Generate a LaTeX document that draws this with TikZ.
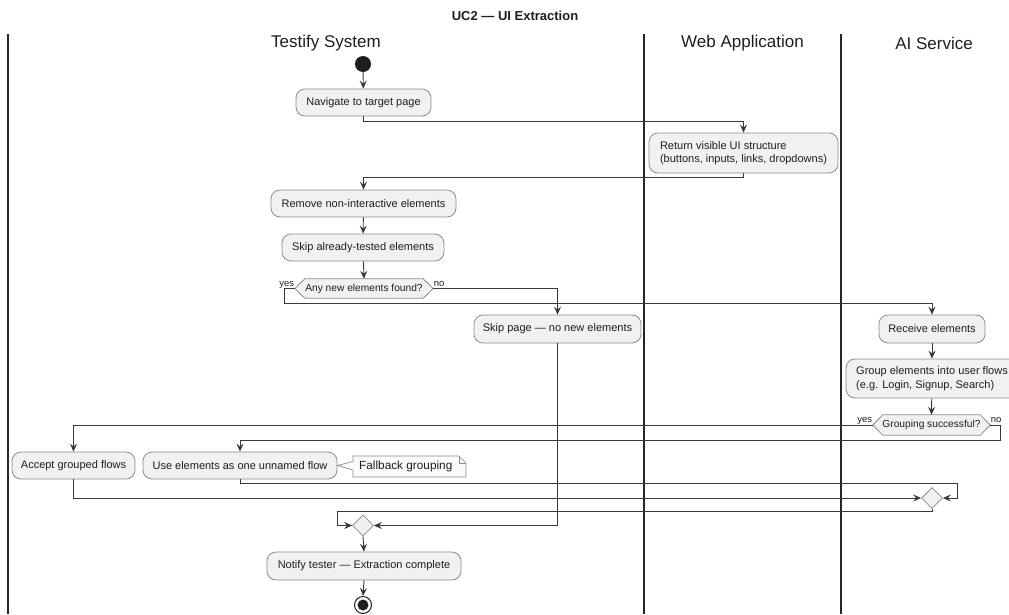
\documentclass[tikz,border=0pt]{standalone}
\usepackage{fontspec}
\setmainfont{Liberation Sans}
\usetikzlibrary{arrows.meta,calc,shapes.geometric}
\definecolor{boxfill}{HTML}{F1F1F1}
\definecolor{boxline}{HTML}{8C8C8C}
\definecolor{wire}{HTML}{383838}
\definecolor{laneline}{HTML}{262626}
\definecolor{notefill}{HTML}{FAFAFA}
\definecolor{ink}{HTML}{1E1E1E}

\begin{document}
\begin{tikzpicture}[x=1pt,y=-1pt,
  act/.style={draw=boxline, fill=boxfill, rounded corners=9pt, line width=0.8pt,
    font=\fontsize{11}{13.5}\selectfont, text=ink, inner sep=0pt},
  dectext/.style={font=\fontsize{10.2}{12}\selectfont, text=ink, inner sep=0pt, minimum height=19pt},
  decshape/.style={draw=boxline, fill=boxfill, line width=0.8pt},
  merge/.style={draw=boxline, fill=boxfill, line width=0.8pt},
  lbl/.style={font=\fontsize{9.5}{11}\selectfont, text=ink, inner sep=0pt},
  head/.style={font=\fontsize{17}{19}\selectfont, text=ink},
  flow/.style={draw=wire, line width=0.9pt, -{Stealth[length=8pt,width=7pt,inset=3pt]}},
  lanesep/.style={draw=laneline, line width=1.5pt}
]
\useasboundingbox (0,0) rectangle (1009,614);
\clip (0,0) rectangle (1009,614);

% title and swimlanes
\node[font=\bfseries\fontsize{13}{15}\selectfont, text=ink] (title) at (515,16) {UC2 — UI Extraction};
\draw[lanesep] (8,34) -- (8,614);
\draw[lanesep] (644,34) -- (644,614);
\draw[lanesep] (841,34) -- (841,614);
\node[head] (h1) at (326,43) {Testify System};
\node[head] (h2) at (742.5,43) {Web Application};
\node[head] (h3) at (934,43) {AI Service};

% activities
\node[circle, fill=ink, minimum size=16pt, inner sep=0pt] (start) at (363,64) {};
\node[act, minimum width=135pt, minimum height=27pt] (nav) at (363.5,102.5) {Navigate to target page};
\node[act, minimum width=189pt, minimum height=40pt, align=left] (ret) at (743.5,153)
  {Return visible UI structure\\(buttons, inputs, links, dropdowns)};
\node[act, minimum width=185pt, minimum height=27pt] (rem) at (363.5,203.5) {Remove non-interactive elements};
\node[act, minimum width=162pt, minimum height=27pt] (skt) at (363,247.5) {Skip already-tested elements};

% first decision
\node[dectext, minimum width=118pt] (d1) at (364,288.5) {};
\draw[decshape] (d1.north west) -- (d1.north east) -- ($(d1.east)+(10,0)$) -- (d1.south east)
  -- (d1.south west) -- ($(d1.west)+(-10,0)$) -- cycle;
\node[dectext, minimum width=118pt] (d1t) at (d1) {Any new elements found?};
\coordinate (d1w) at ($(d1.west)+(-10,0)$);
\coordinate (d1e) at ($(d1.east)+(10,0)$);
\node[lbl, anchor=base east] (y1) at ($(d1w)+(-0.5,-2.5)$) {yes};
\node[lbl, anchor=base west] (n1) at ($(d1e)+(0.5,-2.5)$) {no};

\node[act, minimum width=167pt, minimum height=28pt] (skp) at (557.5,329) {Skip page — no new elements};
\node[act, minimum width=106pt, minimum height=28pt] (rcv) at (932,329) {Receive elements};
\node[act, minimum width=172pt, minimum height=39pt, align=left] (grp) at (932,378.5)
  {Group elements into user flows\\(e.g. Login, Signup, Search)};

% second decision
\node[dectext, minimum width=97pt, minimum height=20pt] (d2) at (931.5,425) {};
\draw[decshape] (d2.north west) -- (d2.north east) -- ($(d2.east)+(10,0)$) -- (d2.south east)
  -- (d2.south west) -- ($(d2.west)+(-10,0)$) -- cycle;
\node[dectext, minimum width=97pt, minimum height=20pt] (d2t) at (d2) {Grouping successful?};
\coordinate (d2w) at ($(d2.west)+(-10,0)$);
\coordinate (d2e) at ($(d2.east)+(10,0)$);
\node[lbl, anchor=base east] (y2) at ($(d2w)+(-0.5,-2.5)$) {yes};
\node[lbl, anchor=base west] (n2) at ($(d2e)+(0.5,-2.5)$) {no};

\node[act, minimum width=123pt, minimum height=27pt] (acc) at (73.5,465.5) {Accept grouped flows};
\node[act, minimum width=194pt, minimum height=27pt] (use) at (240,465.5) {Use elements as one unnamed flow};

% note attached to the fallback activity
\draw[draw=boxline, fill=notefill, line width=0.7pt]
  (353,456) -- (459,456) -- (466,463) -- (466,477) -- (353,477) -- (353,470)
  -- (use.east) -- (353,461.5) -- cycle;
\draw[draw=boxline, line width=0.7pt] (459,456) -- (459,463) -- (466,463);
\node[font=\fontsize{11.8}{13}\selectfont, text=ink, anchor=west, inner sep=0pt] (note) at (359,466.5) {Fallback grouping};

% merge points
\node[merge, diamond, minimum width=21pt, minimum height=21pt, inner sep=0pt] (m1) at (932,498) {};
\node[merge, diamond, minimum width=21pt, minimum height=21pt, inner sep=0pt] (m2) at (363,525.5) {};

\node[act, minimum width=194pt, minimum height=28pt] (ntf) at (364,566) {Notify tester — Extraction complete};
\node[circle, draw=ink, fill=white, line width=1pt, minimum size=17pt, inner sep=0pt] (stop) at (363,605) {};
\node[circle, fill=ink, minimum size=11pt, inner sep=0pt] (stopin) at (stop) {};

% control flow
\draw[flow] (start) -- (nav);
\draw[flow] (nav.south) -- ++(0,5) -| (ret.north);
\draw[flow] (ret.south) -- ++(0,4) -| (rem.north);
\draw[flow] (rem) -- (skt);
\draw[flow] (skt) -- (d1.north);
\draw[flow] (d1w) -- ++(-10,0) -- ++(0,15) -| (rcv.north);
\draw[flow] (d1e) -| (skp.north);
\draw[flow] (rcv) -- (grp);
\draw[flow] (grp) -- (d2.north);
\draw[flow] (d2w) -| (acc.north);
\draw[flow] (d2e) -- ++(10,0) -- ++(0,15) -| (use.north);
\draw[flow] (use.south) -- ++(0,4) -| ($(m1.east)+(15,0)$) -- (m1.east);
\draw[flow] (acc.south) |- (m1.west);
\draw[flow] (m1.south) -- ++(0,3) -| ($(m2.west)+(-15,0)$) -- (m2.west);
\draw[flow] (skp.south) |- (m2.east);
\draw[flow] (m2.south) -- (ntf.north);
\draw[flow] (ntf.south) -- (stop.north);
\end{tikzpicture}
\end{document}
